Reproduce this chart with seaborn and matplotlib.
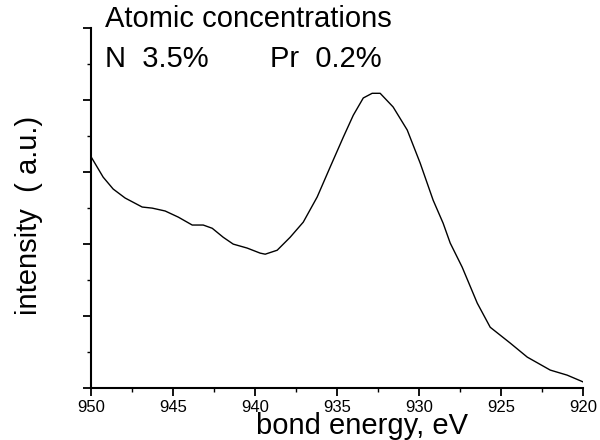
import numpy as np
import pandas as pd
import matplotlib

matplotlib.use("Agg")
import matplotlib.pyplot as plt
import seaborn as sns
from matplotlib.ticker import MultipleLocator

energia = [
    950.0, 949.27, 948.66, 947.93, 946.89, 946.28, 945.49, 944.69, 943.84,
    943.17, 942.62, 941.95, 941.34, 940.49, 939.70, 939.39, 938.66, 937.87,
    937.07, 936.22, 935.43, 934.63, 934.02, 933.41, 932.87, 932.38, 931.59,
    930.73, 929.94, 929.15, 928.54, 928.11, 927.38, 926.46, 925.67, 924.45,
    923.41, 922.01, 920.98, 920.0,
]
intensidade = [
    6.42, 5.86, 5.53, 5.28, 5.03, 5.00, 4.92, 4.75, 4.53,
    4.53, 4.44, 4.19, 4.00, 3.89, 3.75, 3.72, 3.83, 4.19,
    4.61, 5.31, 6.14, 6.97, 7.58, 8.06, 8.19, 8.19, 7.81,
    7.17, 6.25, 5.22, 4.58, 4.03, 3.36, 2.36, 1.69, 1.25,
    0.86, 0.50, 0.36, 0.17,
]
x_ticks = [950, 945, 940, 935, 930, 925, 920]

df = pd.DataFrame({"energia": energia, "intensidade": intensidade})

sns.set_style("ticks", {"axes.edgecolor": "black", "text.color": "black",
                        "xtick.color": "black", "ytick.color": "black",
                        "axes.labelcolor": "black"})
plt.rcParams["font.family"] = ["Liberation Sans", "DejaVu Sans"]

fig = plt.figure(figsize=(6, 4.4), dpi=100)
ax = fig.add_axes([0.152, 0.118, 0.82, 0.818])
sns.lineplot(data=df, x="energia", y="intensidade", color="black", linewidth=1.0, ax=ax)

ax.set_xlim(950, 920)
ax.set_ylim(0, 10)
ax.set_xticks(x_ticks)
ax.set_xticklabels([str(t) for t in x_ticks], fontsize=12)
ax.xaxis.set_minor_locator(MultipleLocator(2.5))
ax.yaxis.set_major_locator(MultipleLocator(2))
ax.yaxis.set_minor_locator(MultipleLocator(1))
ax.set_yticklabels([])
ax.tick_params(which="major", length=5.5, width=1.3, direction="out", pad=3)
ax.tick_params(which="minor", length=3, width=1.0, direction="out")
sns.despine(ax=ax)
for s in ["left", "bottom"]:
    ax.spines[s].set_linewidth(1.5)

ax.set_xlabel("bond energy, eV", fontsize=21)
ax.xaxis.set_label_coords(0.551, -0.066)
ax.set_ylabel("intensity  ( a.u.)", fontsize=21)
ax.yaxis.set_label_coords(-0.098, 0.48)

fig.text(105 / 600, 1 - 27 / 440, "Atomic concentrations", fontsize=21, va="baseline")
fig.text(105 / 600, 1 - 67 / 440, "N  3.5%", fontsize=21, va="baseline")
fig.text(270 / 600, 1 - 67 / 440, "Pr  0.2%", fontsize=21, va="baseline")

fig.savefig("out.png", dpi=100)
